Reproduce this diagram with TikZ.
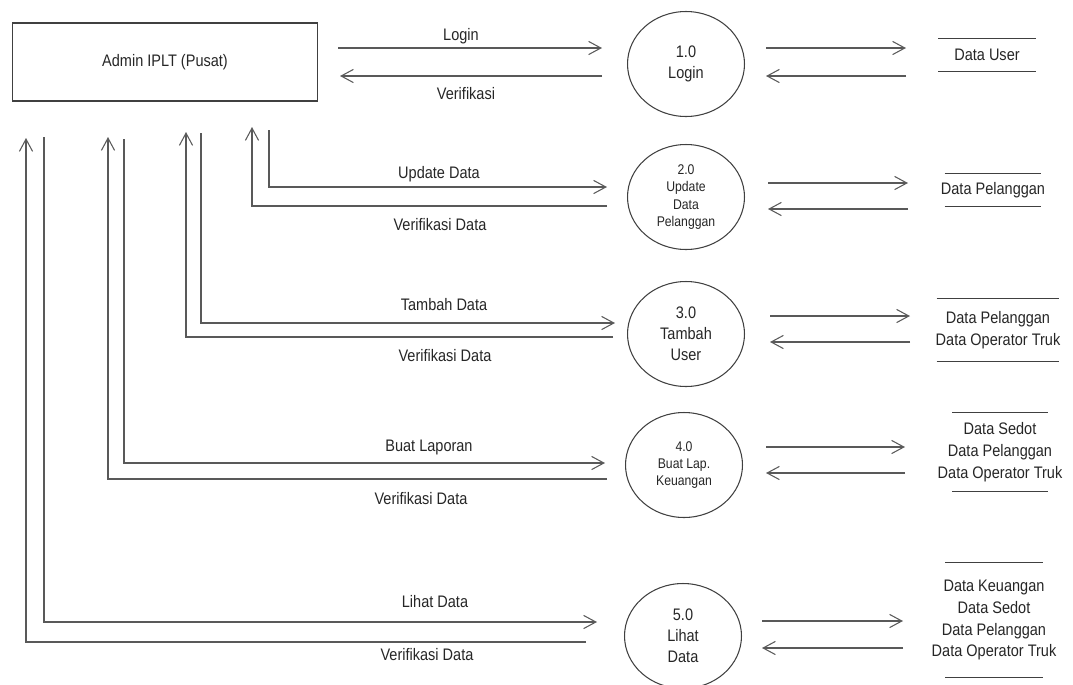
\documentclass[tikz,border=0pt]{standalone}
\usepackage{fontspec}
\setmainfont{Liberation Sans}[FakeStretch=0.87]
\usetikzlibrary{shapes.geometric,arrows.meta}

\begin{document}
\begin{tikzpicture}[x=0.02cm, y=-0.02cm,
    every node/.style={font=\fontsize{9.5}{12}\selectfont, text=black!85},
    flow/.style={draw=black!65, line width=0.6pt, -{Straight Barb[length=7pt,width=7.5pt]}},
    garis/.style={draw=black!75, line width=0.6pt},
    proses/.style={ellipse, garis, minimum width=2.34cm, minimum height=2.1cm, inner sep=0pt, align=center},
    kecil/.style={font=\fontsize{8}{9.8}\selectfont},
    simpan/.style={align=center, inner sep=0pt, font=\fontsize{9.5}{12.5}\selectfont}]
    \useasboundingbox (0,0) rectangle (1073,684);

    % Entitas luar
    \node[garis, minimum width=6.12cm, minimum height=1.56cm] (admin) at (165,62) {Admin IPLT (Pusat)};

    % Proses
    \node[proses] (p1) at (686,64) {1.0\\Login};
    \node[proses, kecil] (p2) at (686,197) {2.0\\Update\\Data\\Pelanggan};
    \node[proses] (p3) at (686,334) {3.0\\Tambah\\User};
    \node[proses, kecil] (p4) at (684,465) {4.0\\Buat Lap.\\Keuangan};
    \node[proses] (p5) at (683,636) {5.0\\Lihat\\Data};

    % Data store
    \node[simpan, minimum height=0.66cm] (s1) at (987,55) {Data User};
    \node[simpan, minimum height=0.66cm] (s2) at (993,190) {Data Pelanggan};
    \node[simpan, minimum height=1.26cm] (s3) at (998,330) {Data Pelanggan\\Data Operator Truk};
    \node[simpan, minimum height=1.58cm] (s4) at (1000,452) {Data Sedot\\Data Pelanggan\\Data Operator Truk};
    \node[simpan, minimum height=2.3cm] (s5) at (994,620) {Data Keuangan\\Data Sedot\\Data Pelanggan\\Data Operator Truk};
    \foreach \s/\w in {s1/0.98cm, s2/0.97cm, s3/1.23cm, s4/0.96cm, s5/0.98cm} {
        \draw[garis] ([xshift=-\w]\s.north) -- ([xshift=\w]\s.north);
        \draw[garis] ([xshift=-\w]\s.south) -- ([xshift=\w]\s.south);
    }

    % Alur proses <-> data store
    \foreach \n/\xa/\xb/\ya/\yb in {1/766/906/48/76, 2/768/908/183/209, 3/770/910/316/342, 4/766/905/447/473, 5/762/903/621/648} {
        \coordinate (pa\n) at (\xa,\ya);
        \coordinate (sa\n) at (\xb,\ya);
        \coordinate (pb\n) at (\xa,\yb);
        \coordinate (sb\n) at (\xb,\yb);
        \draw[flow] (pa\n) -- (sa\n);
        \draw[flow] (sb\n) -- (pb\n);
    }

    % Alur admin <-> proses
    \coordinate (ka1) at (338,48);
    \coordinate (pk1) at (602,48);
    \coordinate (pv1) at (602,76);
    \coordinate (kv1) at (340,76);
    \draw[flow] (ka1) -- (pk1);
    \draw[flow] (pv1) -- (kv1);
    \foreach \n/\xo/\yo/\xk/\yk/\xv/\yv/\xi/\yi in {2/269/130/607/187/607/206/252/127, 3/201/133/615/323/613/337/186/132, 4/124/139/605/463/607/479/108/137, 5/44/137/597/622/586/642/26/138} {
        \coordinate (ka\n) at (\xo,\yo);
        \coordinate (pk\n) at (\xk,\yk);
        \coordinate (pv\n) at (\xv,\yv);
        \coordinate (kv\n) at (\xi,\yi);
        \draw[flow] (ka\n) |- (pk\n);
        \draw[flow] (pv\n) -| (kv\n);
    }

    % Label alur
    \node (l1a) at (461,36) {Login};
    \node (l1b) at (466,94) {Verifikasi};
    \node (l2a) at (439,174) {Update Data};
    \node (l2b) at (440,225) {Verifikasi Data};
    \node (l3a) at (444,305) {Tambah Data};
    \node (l3b) at (445,356) {Verifikasi Data};
    \node (l4a) at (429,447) {Buat Laporan};
    \node (l4b) at (421,499) {Verifikasi Data};
    \node (l5a) at (435,602) {Lihat Data};
    \node (l5b) at (427,655) {Verifikasi Data};
\end{tikzpicture}
\end{document}
